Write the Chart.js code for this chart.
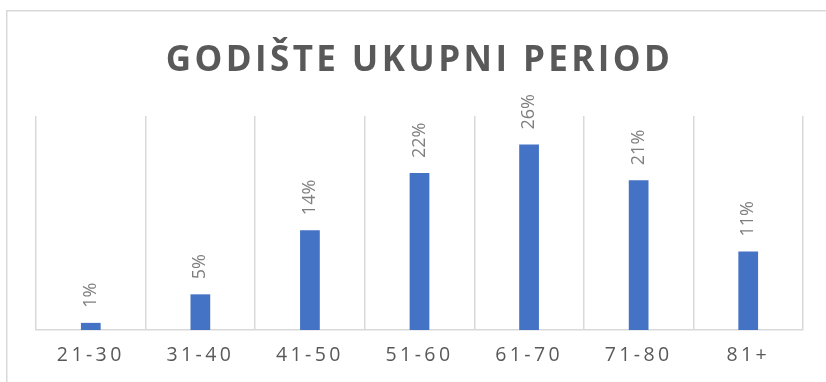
<!DOCTYPE html>
<html>
<head>
<meta charset="utf-8">
<script src="https://cdn.jsdelivr.net/npm/chart.js@4.4.0/dist/chart.umd.min.js"></script>
<style>
  html, body { margin: 0; padding: 0; background: #fff; }
  #wrap { width: 826px; height: 382px; }
</style>
</head>
<body>
<div id="wrap"><canvas id="grafico" width="826" height="382"></canvas></div>
<script>
// godiste po grupama (udio u %)
const kategorije = ['21-30', '31-40', '41-50', '51-60', '61-70', '71-80', '81+'];
const udjeli = [1, 5, 14, 22, 26, 21, 11];
const naslov = 'GODIŠTE UKUPNI PERIOD';

// okvir oko grafikona (vidi se samo lijevo i gore)
const okvir = {
  id: 'okvir',
  beforeDraw(chart) {
    const ctx = chart.ctx;
    ctx.save();
    ctx.strokeStyle = '#d9d9d9';
    ctx.lineWidth = 1.5;
    ctx.beginPath();
    ctx.moveTo(6.75, chart.height);
    ctx.lineTo(6.75, 10.75);
    ctx.lineTo(chart.width, 10.75);
    ctx.stroke();
    ctx.restore();
    // razmak slova za naslov i oznake osi
    ctx.letterSpacing = '3.4px';
  }
};

// postoci iznad stupaca, okrenuti okomito
const oznake = {
  id: 'oznake',
  afterDatasetsDraw(chart) {
    const ctx = chart.ctx;
    const meta = chart.getDatasetMeta(0);
    ctx.save();
    ctx.letterSpacing = '0px';
    ctx.font = '18px "Open Sans"';
    ctx.fillStyle = '#7f7f7f';
    ctx.textAlign = 'left';
    ctx.textBaseline = 'middle';
    meta.data.forEach((bar, i) => {
      ctx.save();
      ctx.translate(bar.x, bar.y - 15);
      ctx.rotate(-Math.PI / 2);
      ctx.fillText(udjeli[i] + '%', 0, 0);
      ctx.restore();
    });
    ctx.restore();
  }
};

new Chart(document.getElementById('grafico'), {
  type: 'bar',
  data: {
    labels: kategorije,
    datasets: [{
      data: udjeli,
      backgroundColor: '#4472C4',
      barPercentage: 1,
      categoryPercentage: 0.18
    }]
  },
  options: {
    responsive: false,
    animation: false,
    layout: { padding: { top: 0, left: 36, right: 23, bottom: 0 } },
    plugins: {
      legend: { display: false },
      tooltip: { enabled: false },
      title: {
        display: true,
        text: naslov,
        color: '#595959',
        font: { family: '"Open Sans"', size: 35, weight: 'bold' },
        padding: { top: 40, bottom: 34 }
      }
    },
    scales: {
      x: {
        grid: { color: '#d9d9d9', lineWidth: 1.5, drawTicks: false },
        border: { color: '#d9d9d9', width: 1.5 },
        ticks: {
          color: '#595959',
          padding: 14,
          font: { family: '"Open Sans"', size: 19.5 }
        },
        afterFit(scale) {
          scale.height = 52;
        }
      },
      y: {
        display: false,
        min: 0,
        max: 30
      }
    }
  },
  plugins: [okvir, oznake]
});
</script>
</body>
</html>
